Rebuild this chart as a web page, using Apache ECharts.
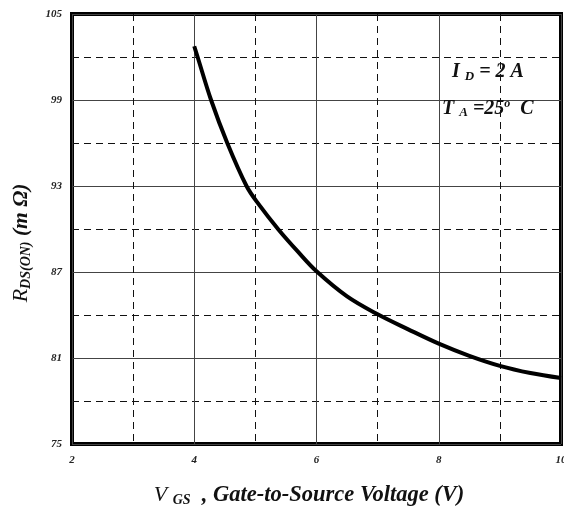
<!DOCTYPE html>
<html><head><meta charset="utf-8">
<script src="https://cdn.jsdelivr.net/npm/echarts@6/dist/echarts.min.js"></script>
<style>html,body{margin:0;padding:0;background:#fff}#c{width:564px;height:511px}</style>
</head><body><div id="c"></div>
<script>
const vgs = [4.0, 4.055, 4.275, 4.54, 4.855, 5.05, 5.38, 5.7, 6.0, 6.5, 7.0, 7.5, 8.0, 8.5, 9.0, 9.5, 10.0];
const rdson = [102.75, 102, 99, 96, 93, 91.75, 89.95, 88.4, 87.05, 85.3, 84.05, 83.0, 82.0, 81.15, 80.45, 79.95, 79.6];
const xTicks = [2, 4, 6, 8, 10];
const yTicks = [75, 81, 87, 93, 99, 105];

const serif = '"Liberation Serif", "DejaVu Serif", serif';
const chart = echarts.init(document.getElementById('c'));
const lbl = {fontFamily: serif, fontStyle: 'italic', fontWeight: 'bold', fontSize: 11, color: '#222'};
const T = (size, extra) => Object.assign({fontFamily: serif, fontStyle: 'italic', fontWeight: 'bold', fontSize: size, fill: '#111'}, extra || {});
chart.setOption({
  animation: false,
  grid: {left: 72, right: 3, top: 14, bottom: 67, outerBoundsMode: 'none', containLabel: false, show: true, borderColor: '#000', borderWidth: 4, backgroundColor: 'transparent'},
  xAxis: {
    type: 'value', min: 2, max: 10, interval: 2,
    axisLine: {show: false}, axisTick: {show: false},
    axisLabel: Object.assign({margin: 11, formatter: v => xTicks.includes(v) ? String(v) : ''}, lbl),
    splitLine: {show: true, lineStyle: {color: '#444', width: 1, type: 'solid'}},
    minorTick: {show: false, splitNumber: 2},
    minorSplitLine: {show: true, lineStyle: {color: '#111', width: 1, type: [7, 5]}}
  },
  yAxis: {
    type: 'value', min: 75, max: 105, interval: 6,
    axisLine: {show: false}, axisTick: {show: false},
    axisLabel: Object.assign({margin: 10, formatter: v => yTicks.includes(v) ? String(v) : ''}, lbl),
    splitLine: {show: true, lineStyle: {color: '#444', width: 1, type: 'solid'}},
    minorTick: {show: false, splitNumber: 2},
    minorSplitLine: {show: true, lineStyle: {color: '#111', width: 1, type: [7, 5]}}
  },
  graphic: [
    {type: 'text', x: 309, y: 495, z: 10, style: {align: 'center', verticalAlign: 'middle',
      rich: {a: T(22, {fontWeight: 'normal'}), b: T(14, {padding: [10,0,0,0]}), c: T(22.5)},
      text: '{a|V }{b|GS}{c|  , Gate-to-Source Voltage (V)}'}},
    {type: 'text', x: 21, y: 243, rotation: Math.PI / 2, z: 10, style: {align: 'center', verticalAlign: 'middle',
      rich: {a: T(22, {fontWeight: 'normal'}), b: T(14, {padding: [10,0,0,0]}), c: T(21.5)},
      text: '{a|R}{b|DS(ON)}{c| (m Ω)}'}},
    {type: 'text', left: 452, top: 62, z: 10, style: {rich: {a: T(20), b: T(13, {padding: [9,0,0,0]})}, text: '{a|I }{b|D}{a| = 2 A}'}},
    {type: 'text', left: 442, top: 98, z: 10, style: {rich: {a: T(20), b: T(13, {padding: [9,0,0,0]}), c: T(12, {padding: [0,0,9,0]})}, text: '{a|T }{b|A}{a| =25}{c|o}{a|  C}'}}
  ],
  series: [{
    type: 'line', data: vgs.map((v, i) => [v, rdson[i]]), smooth: 0.35, showSymbol: false,
    lineStyle: {color: '#000', width: 4}, z: 5
  }]
});
</script></body></html>
